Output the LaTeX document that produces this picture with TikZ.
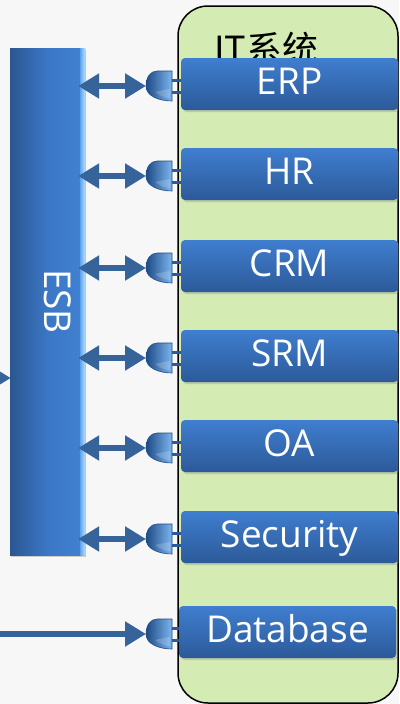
\documentclass[tikz,border=0pt]{standalone}
\usepackage{fontspec}
\setmainfont{Open Sans}
\newfontfamily\cjk{Noto Sans CJK SC}
\usetikzlibrary{arrows.meta,shadows}
\definecolor{bg}{HTML}{F7F7F7}
\definecolor{grn}{HTML}{D4EBB4}
\definecolor{boxtop}{HTML}{3F7ECF}
\definecolor{boxbot}{HTML}{2C5A99}
\definecolor{arrc}{HTML}{36649A}
\definecolor{esbL}{HTML}{2B5791}
\definecolor{esbM}{HTML}{3B77C5}
\definecolor{esbR}{HTML}{4282D2}
\definecolor{hiL}{HTML}{5FA2EC}
\definecolor{hiR}{HTML}{B3E0FF}
\definecolor{plugD}{HTML}{1E4A85}
\definecolor{plugL}{HTML}{7DB6EE}
\tikzset{
  sysbox/.style={rectangle, rounded corners=4pt, minimum width=217pt, minimum height=52pt,
    top color=boxtop, bottom color=boxbot, text=white, inner sep=0pt,
    text height=20pt, text depth=0pt, font=\fontsize{37}{40}\selectfont,
    drop shadow={shadow xshift=1.5pt, shadow yshift=-2pt, opacity=0.3}},
  dblarrow/.style={draw=arrc, line width=6pt, {Triangle[length=21pt,width=24pt]}-{Triangle[length=21pt,width=24pt]}},
  onearrow/.style={draw=arrc, line width=6pt, -{Triangle[length=21pt,width=24pt]}},
  prong/.style={draw=boxbot, line width=3pt},
  plug/.pic={
    \draw[prong] (24,-6) -- (35,-6);
    \draw[prong] (24,6) -- (35,6);
    \shade[left color=plugD, right color=plugL, draw=plugD, line width=0.6pt]
      (26,-15) -- (11,-15) .. controls (4,-15) and (0,-8) .. (0,0)
      .. controls (0,10) and (13,15) .. (26,15) -- cycle;
    \fill[white, opacity=0.18] (9,6) .. controls (14,10) and (20,12) .. (24,12) -- (24,3) .. controls (18,4) and (13,5) .. cycle;
  }
}
\begin{document}
\begin{tikzpicture}[x=1pt,y=-1pt]
\useasboundingbox (0,0) rectangle (399,704);
\clip (0,0) rectangle (399,704);
\fill[bg] (0,0) rectangle (399,704);
% IT system container
\draw[fill=grn, line width=1.5pt, rounded corners=30pt] (178,6) rectangle (398,703);
\node[anchor=base west, inner sep=0pt, font=\cjk\fontsize{36}{40}\selectfont] (title) at (214,62) {IT系统};
% ESB bar
\node[rectangle, minimum width=75pt, minimum height=507pt, inner sep=0pt,
      left color=esbL, right color=esbR, middle color=esbM,
      drop shadow={shadow xshift=1pt, shadow yshift=-2pt, opacity=0.35}] (esb) at (47.5,301.5) {};
\shade[left color=hiL, right color=hiR] (80,48) rectangle (85,555);
\node[rotate=-90, text=white, inner sep=0pt, text height=26pt, text depth=0pt,
      font=\fontsize{37}{40}\selectfont] (esbtext) at ([xshift=10pt]esb.center) {ESB};
% systems
\foreach \n/\lab/\y in {1/ERP/84, 2/HR/174, 3/CRM/266, 4/SRM/356, 5/OA/446, 6/Security/537}{
  \pgfmathsetmacro\ay{\y+2}
  \coordinate (p\n) at (146,\ay);
  \pic at (p\n) {plug};
  \node[sysbox] (b\n) at (289.5,\y) {\lab};
  \draw[dblarrow] ([xshift=-7pt]esb.east |- p\n) -- (p\n);
}
\coordinate (p7) at (146,634);
\pic at (p7) {plug};
\node[sysbox] (b7) at (287.5,632) {Database};
\coordinate (dbin) at (-10,634);
\draw[onearrow] (dbin) -- (p7);
% incoming arrow to ESB
\coordinate (esbin) at (-40,378);
\draw[onearrow] (esbin) -- ([xshift=1pt]esb.west |- esbin);
\end{tikzpicture}
\end{document}
